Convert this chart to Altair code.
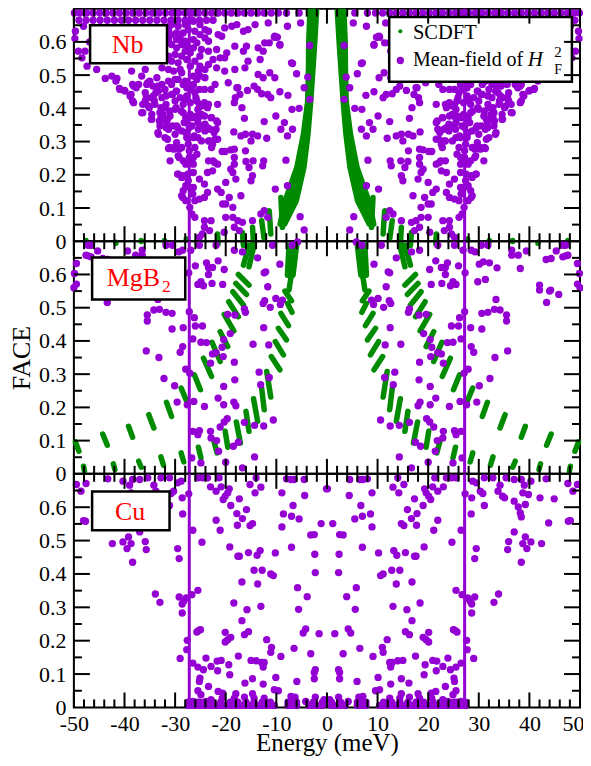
import altair as alt
import pandas as pd

GREEN = "#008b00"
PURPLE = "#9400d3"
SERIF = "Liberation Serif"
GAP_EDGE = 27.2

# The reference is mirror-symmetric about 0 meV: values below were read for the E > 0 half.
NB_ROW = [5.5,8.0,9.6,11.0,12.4,13.7,15.0,16.3,17.6,18.9,20.2,21.5,22.8,24.1,25.4,26.7,28.0,29.3,30.6,31.9,33.2,34.5,35.8,37.1,38.4,39.7,41.0,42.3,43.6,44.9,46.2,47.5,48.8,49.9]
NB_ROW2 = [22.5,23.8,25.2,26.6,28.0,29.4,30.8,32.2,33.6,35.0,36.4,37.8,39.2,40.6,42.0,43.4,44.8,46.2,47.6,49.0]
NB_POINTS = [
(5.2,.657),(7.8,.647),(9.8,.614),(10.4,.614),(9.3,.590),(11.4,.597),(3.4,.589),(6.8,.535),(6.0,.504),(3.8,.494),
(4.5,.462),(3.4,.427),(5.5,.400),(6.9,.397),(7.7,.439),(9.3,.450),(11.1,.432),(11.7,.442),(12.9,.444),(13.7,.457),
(14.4,.467),(15.7,.454),(17.2,.442),(17.6,.462),(18.1,.432),(18.3,.417),(16.8,.402),(21.6,.412),(10.1,.377),(12.4,.360),
(8.4,.357),(9.1,.337),(6.8,.337),(7.8,.317),(11.9,.310),(13.7,.317),(14.7,.322),(15.0,.302),(16.1,.322),(17.0,.317),
(18.4,.329),(16.3,.370),(16.1,.272),(18.3,.277),(19.0,.275),(20.1,.270),(20.7,.270),(8.1,.244),(12.5,.242),(12.7,.227),
(14.6,.242),(16.0,.240),(15.4,.222),(14.7,.197),(15.0,.182),(18.3,.252),(18.3,.232),(19.0,.217),(18.6,.207),(21.6,.232),
(22.2,.237),(22.6,.212),(23.6,.207),(20.0,.177),(18.0,.187),(24.2,.172),(25.2,.187),(7.8,.167),(10.2,.157),(21.6,.157),
(20.9,.147),(19.3,.132),(17.0,.137),(23.6,.147),(24.2,.132),(25.2,.127),(20.6,.112),(18.6,.102),(20.0,.112),(12.4,.092),
(13.05,.082),(11.7,.072),(5.3,.074),(14.7,.062),(16.7,.057),(17.6,.062),(18.6,.072),(20.0,.072),(22.9,.062),(24.2,.062),
(24.2,.042),(18.3,.042),(17.3,.032),(20.3,.027),(23.2,.032),(24.6,.022),(25.2,.012),(4.5,.034),
(22.9,.457),(24.2,.457),(25.2,.457),(26.5,.467),(28.2,.472),(29.8,.452),(30.5,.442),(31.8,.437),(33.4,.467),(34.4,.467),
(33.8,.447),(35.4,.477),(37.7,.462),(38.4,.472),(40.0,.454),(41.0,.460),(41.7,.482),(35.7,.432),(38.7,.442),(38.4,.422),
(34.7,.432),(34.1,.422),(31.8,.412),(32.8,.402),(32.4,.382),(31.1,.392),(29.8,.402),(27.9,.427),(25.9,.432),(25.2,.412),
(24.2,.417),(23.6,.402),(25.5,.397),(24.9,.382),(24.2,.377),(22.9,.372),(21.6,.357),(21.9,.337),(23.6,.342),(22.3,.327),
(21.6,.307),(23.2,.302),(22.6,.292),(25.5,.312),(26.2,.317),(27.9,.327),(27.2,.342),(28.2,.357),(29.5,.342),(30.5,.347),
(31.5,.367),(32.8,.372),(33.4,.327),(31.5,.307),(30.2,.282),(31.1,.282),(29.2,.277),(27.2,.272),(27.2,.252),(29.2,.252),
(27.9,.232),(29.5,.202),(27.5,.202),(28.5,.197),(27.9,.167),(26.5,.142),(28.5,.132),(27.9,.122),(35.1,.402),(36.4,.412),
(36.4,.387),(34.7,.367),(33.1,.362),(31.8,.342),(28.8,.392),(27.9,.372),(26.5,.372),(25.5,.357),(24.6,.347),
(49.7,.632),(48.1,.647),(49.1,.572),(47.8,.572),(48.4,.552),(47.4,.527),(45.5,.517),(43.8,.490),(42.5,.497),(41.5,.490),
(40.9,.457),(39.9,.452),(38.6,.512),(36.6,.497),(38.2,.467),(38.9,.437),(38.2,.417),(36.6,.387),(35.9,.447),(35.0,.482),
(33.6,.492),(33.3,.452),(34.3,.437),(32.6,.432),(34.6,.367),(33.0,.387),(32.0,.402),(31.0,.377),(33.3,.322),(33.0,.347),
(31.3,.337),(29.7,.347),(29.0,.517),(29.4,.487),(29.7,.452),(30.7,.442),(31.3,.517),(32.6,.522),(35.9,.517),(30.0,.322),
(28.7,.332),(29.7,.297),(31.3,.279),(30.3,.277),(28.7,.282),(31.0,.242),(29.4,.257),(28.4,.242),(29.4,.202),(28.7,.192),
(28.4,.152),(28.7,.137),(26.4,.232),(26.4,.207),
(30.7,.622),(29.7,.627),(29.0,.612),(28.0,.602),(27.4,.637),(26.1,.632),(25.1,.622),(24.1,.612),(23.4,.602),(30.7,.592),
(29.7,.582),(28.0,.572),(27.0,.567),(28.7,.557),(29.4,.537),(30.7,.542),(26.1,.542),(25.1,.557),(23.4,.572),(21.8,.577),
(21.5,.622),(20.2,.642),(18.8,.647),(17.8,.652),(20.8,.617),(16.5,.632),(15.6,.637),(14.2,.652),(11.6,.657),(10.3,.617),
(9.3,.592),(12.3,.597),(13.6,.582),(12.6,.572),(15.9,.587),(16.5,.572),(18.2,.587),(19.8,.567),(24.8,.577),(22.5,.547),
(21.1,.552),(20.2,.552),(23.4,.532),(25.1,.527),(21.8,.522),(20.2,.512),(18.2,.517),(16.2,.522),(15.6,.542),(13.2,.547),
(7.0,.537),(13.6,.502),(12.6,.492),(11.3,.507),(10.3,.492),(19.5,.477),(17.8,.462),(22.1,.472),(24.1,.492),(25.7,.487),
(26.4,.472),(27.7,.462),(46.0,.640),(44.0,.640),(31.0,.650),(33.0,.640),(49.8,.610),(46.9,.600),
(30.7,.652),(29.4,.647),(28.0,.652),(26.4,.662),(25.1,.652),(24.1,.637),(23.4,.632),(28.4,.627),(26.4,.607),(29.7,.607),
(31.3,.607),(31.3,.637),(26.4,.582),(25.7,.597),(27.7,.587),(28.7,.592),(30.0,.562),(31.3,.557),(27.7,.547),(25.4,.512),
(24.1,.517),(27.0,.527),(28.7,.507),(30.3,.512),(30.0,.487),(28.0,.482),(26.4,.497),(25.1,.497),
(37.2,.472),(35.6,.472),(32.6,.472),(31.3,.482),(32.0,.457),(30.7,.472),(28.4,.472),(27.0,.457),(26.1,.447),(29.0,.432),
(27.7,.437),(30.0,.422),(28.4,.412),(27.0,.417),(25.7,.422),(24.8,.407),(30.0,.397),(28.4,.387),(27.0,.382),(25.7,.377),
(24.8,.382),(23.4,.412),(35.3,.407),(34.0,.412),(35.9,.422),(34.6,.382),(32.6,.367),(31.7,.357),(28.0,.357),(26.7,.347),
(25.4,.337),(24.1,.332),(27.7,.312),(26.4,.312),(24.8,.302),(27.4,.292),(26.1,.282),(32.0,.312),(23.4,.302),(22.8,.282),
(27.0,.242),(26.4,.252),(25.7,.262),(23.4,.242),(22.5,.242),(25.4,.372),(24.1,.352),(22.8,.372),(21.8,.362),(23.1,.337),
(22.1,.307),(27.4,.182),(26.4,.162),(26.1,.122),(27.1,.102),(26.7,.082),(26.1,.072),(27.1,.162),
]
NB_STROKES = [
[(2.05,.692),(2.4,.602),(2.75,.522),(3.2,.422),(3.75,.322),(4.55,.222),(6.05,.122),(8.35,.052)],
[(2.7,.692),(3.0,.602),(3.2,.522),(3.5,.422),(4.2,.322),(5.25,.222),(7.15,.122),(8.8,.052)],
[(3.35,.692),(3.6,.602),(3.65,.522),(3.8,.422),(4.65,.322),(5.95,.222),(8.25,.122),(9.25,.052)],
[(4.9,.222),(6.6,.122),(8.5,.052)],[(5.6,.222),(7.7,.122),(9.0,.052)],
[(9.1,.132),(8.8,.042)],[(11.4,.092),(11.1,.022)],[(12.9,.062),(12.4,.007)],[(14.7,.042),(14.5,-.013)],
[(16.7,.027),(16.5,-.013)],[(21.6,.022),(21.5,-.008)],[(27.8,.007),(27.8,.004)],[(32.1,.002),(32.1,-.001)],
[(36.7,.002),(36.7,-.001)],[(41.7,-.003),(41.7,-.006)],[(47.6,.002),(47.6,-.001)],
]
MGB2_POINTS = [
(5.8,.698),(6.9,.688),(10.75,.688),(13.7,.650),(16.7,.668),(18.3,.673),(21.9,.688),(25.2,.688),(26.9,.673),(28.5,.673),
(29.3,.668),(30.5,.688),(31.8,.688),(36.5,.673),(36.5,.658),(37.8,.658),(39.4,.671),(45.3,.671),(46.6,.688),(47.2,.688),
(46.6,.653),(47.2,.656),(47.6,.658),(9.3,.631),(12.1,.608),(12.4,.605),(21.5,.641),(23.8,.635),(22.6,.621),(23.4,.621),
(20.3,.615),(23.4,.600),(26.0,.626),(27.3,.605),(30.1,.631),(30.9,.638),(32.1,.635),(33.6,.620),(38.2,.618),(43.3,.645),
(44.3,.648),(49.5,.633),(49.9,.603),(49.5,.571),(50.0,.560),(11.7,.563),(20.6,.570),(22.7,.573),(24.4,.566),(24.9,.578),
(25.5,.570),(29.8,.578),(31.3,.585),(42.0,.568),(42.0,.553),(44.2,.553),(44.0,.550),(45.8,.540),(33.4,.525),(43.4,.516),
(8.8,.523),(10.1,.528),(9.2,.510),(11.2,.501),(12.3,.521),(12.6,.513),(16.1,.486),(16.3,.496),(18.2,.478),(19.6,.480),
(27.2,.488),(26.2,.470),(30.6,.483),(31.8,.486),(33.1,.495),(34.2,.493),(35.5,.478),(35.5,.460),(12.5,.440),(24.6,.445),
(26.0,.445),(28.4,.440),(30.6,.436),(19.1,.422),(20.4,.404),(11.5,.388),(14.6,.390),(23.8,.395),(24.9,.396),(26.5,.406),
(20.7,.381),(21.9,.365),(22.6,.361),(20.5,.353),(28.5,.383),(29.0,.366),(35.7,.370),(33.2,.350),(18.3,.336),(23.0,.333),
(13.4,.306),(11.4,.290),(18.2,.283),(27.1,.303),(27.9,.315),(32.2,.287),(13.1,.268),(20.4,.263),(30.1,.265),(21.5,.228),
(18.4,.216),(18.0,.205),(20.4,.208),(24.2,.203),(26.3,.218),(27.6,.208),(29.6,.216),(10.6,.162),(12.5,.144),(14.3,.146),
(16.3,.155),(19.7,.166),(20.3,.156),(21.1,.141),(23.0,.128),(22.9,.108),(21.8,.100),(25.2,.130),(25.5,.118),(26.5,.128),
(17.5,.095),(18.5,.083),(21.4,.068),(14.3,.051),(26.7,.048),(24.9,.033),(20.0,.035),(16.7,.018),
]
MGB2_STROKES = [
[(6.0,.688),(6.7,.598)],[(6.7,.688),(7.1,.593)],[(7.5,.688),(7.8,.598)],[(7.1,.593),(7.5,.553)],
[(8.3,.550),(7.0,.521)],[(7.8,.513),(6.9,.486)],[(9.1,.483),(7.6,.446)],[(9.6,.438),(8.0,.403)],
[(10.2,.398),(8.6,.358)],[(11.0,.353),(9.3,.313)],[(11.9,.308),(11.1,.231)],[(12.9,.258),(12.4,.193)],
[(14.5,.226),(13.7,.158)],[(16.0,.188),(15.4,.128)],[(17.9,.156),(17.1,.093)],[(20.1,.128),(19.6,.080)],
[(22.3,.096),(21.7,.063)],[(25.4,.080),(24.9,.048)],[(28.8,.063),(28.3,.036)],[(32.8,.051),(32.3,.026)],
[(37.2,.038),(36.7,.020)],[(42.2,.030),(41.9,.013)],[(48.1,.023),(47.9,.008)],
[(14.4,.688),(15.4,.623)],[(15.4,.688),(16.5,.628)],[(17.5,.600),(15.4,.568)],[(18.0,.573),(15.9,.540)],
[(18.6,.548),(16.5,.508)],[(19.4,.518),(17.5,.473)],[(20.3,.480),(18.4,.430)],[(21.1,.428),(19.6,.383)],
[(22.7,.396),(21.1,.338)],[(24.4,.348),(22.8,.293)],[(26.2,.298),(25.0,.253)],[(28.8,.258),(27.7,.218)],
[(31.7,.215),(30.7,.173)],[(35.2,.178),(34.2,.138)],[(39.2,.143),(38.4,.110)],[(44.3,.120),(43.4,.086)],
[(49.7,.096),(49.0,.068)],
]
CU_ROW = [0.9,1.8,2.7,3.6,6.0,6.9,7.7,10.4,11.2,12.0,12.8,13.6,14.4,15.2,16.0,16.8,17.6,18.4,19.1,20.2,21.0,21.8,22.6,23.4,24.2,25.0,25.8,26.6,27.4]
CU_POINTS = [
(0.1,.655),(4.5,.683),(6.5,.683),(7.1,.683),(8.0,.685),(13.05,.660),(14.2,.643),(14.0,.688),(15.2,.668),(19.3,.655),
(19.6,.643),(20.1,.633),(20.5,.623),(20.9,.661),(21.9,.648),(23.0,.661),(21.3,.688),(23.6,.688),(24.6,.688),(25.5,.688),
(27.3,.640),(28.6,.628),(28.8,.678),(29.5,.673),(30.3,.648),(30.8,.641),(31.1,.605),(31.1,.688),(32.8,.688),(33.8,.648),
(34.2,.666),(34.7,.633),(35.1,.628),(35.4,.688),(37.0,.683),(38.4,.683),(39.0,.666),(40.3,.678),(38.7,.643),(39.8,.638),
(42.1,.628),(43.3,.685),(44.9,.625),(47.6,.671),(49.5,.668),(48.6,.648),(4.4,.635),(8.9,.643),(6.7,.605),(5.5,.565),
(7.0,.573),(8.6,.580),(8.9,.541),(1.15,.551),(2.5,.518),(3.2,.517),(17.3,.625),(19.0,.605),(15.9,.593),(17.8,.581),
(16.7,.566),(14.7,.551),(15.2,.545),(17.7,.546),(21.9,.561),(21.1,.531),(26.5,.531),(28.5,.580),(37.0,.618),(37.8,.601),
(39.2,.608),(38.2,.583),(38.4,.571),(43.8,.553),(47.7,.558),(48.1,.560),(37.0,.526),(35.9,.497),(35.7,.473),(39.2,.511),
(38.7,.491),(39.5,.476),(40.3,.496),(42.4,.491),(38.4,.435),(24.7,.495),(29.5,.476),(29.2,.446),(7.0,.480),(10.2,.463),
(13.2,.470),(13.8,.456),(15.5,.464),(17.3,.453),(17.6,.453),(19.2,.481),(2.4,.459),(2.3,.404),(10.6,.395),(11.1,.400),
(12.8,.411),(14.4,.411),(13.7,.370),(16.8,.376),(5.8,.359),(3.9,.332),(5.6,.294),(13.05,.303),(15.8,.293),(16.8,.260),
(18.4,.313),(25.5,.351),(26.7,.338),(27.8,.328),(28.3,.318),(28.6,.310),(29.2,.331),(28.6,.283),(33.0,.315),(33.9,.340),
(4.2,.235),(4.7,.223),(1.55,.221),(15.5,.227),(16.3,.218),(19.0,.210),(19.6,.203),(20.1,.196),(20.1,.225),(25.0,.233),
(25.3,.231),(25.7,.226),(11.9,.203),(27.6,.201),(27.7,.173),(29.0,.147),(6.5,.177),(3.2,.161),(10.95,.180),(11.1,.165),
(9.1,.153),(17.5,.154),(12.4,.135),(12.6,.121),(12.9,.135),(14.0,.140),(15.0,.141),(20.9,.141),(21.7,.139),(23.9,.148),
(22.9,.123),(21.6,.110),(19.4,.128),(24.4,.113),(25.5,.121),(26.5,.133),(19.2,.098),(2.3,.113),(2.5,.105),(2.5,.086),
(5.95,.078),(10.1,.090),(14.7,.086),(16.2,.073),(12.6,.070),(23.4,.063),(25.1,.088),(25.2,.078),(9.6,.050),(10.4,.053),
(12.4,.028),(14.4,.028),(14.7,.041),(16.3,.031),(18.0,.041),(18.3,.028),(20.6,.043),(21.5,.048),(20.7,.028),(24.9,.038),
(25.5,.050),(22.9,.023),(23.9,.018),(25.2,.016),(26.5,.018),(2.3,.031),(6.3,.031),(7.1,.033),(0.56,.023),(4.2,.018),
(6.5,.018),
]
X_MAJOR = [-50,-40,-30,-20,-10,0,10,20,30,40,50]
X_MINOR = [v for v in range(-48, 50, 2) if v % 10 != 0]
Y_MAJOR = [0.1,0.2,0.3,0.4,0.5,0.6]
Y_MINOR = [0.05,0.15,0.25,0.35,0.45,0.55,0.65]
Y_LABELS = [0,0.1,0.2,0.3,0.4,0.5,0.6]

W = 507
xs = alt.Scale(domain=[-50, 50], nice=False, zero=False)
ys = alt.Scale(domain=[0, 0.7], nice=False, zero=False)


def sym(points):
    xy = list(points)
    return pd.DataFrame({"x": [p[0] for p in xy] + [-p[0] for p in xy], "y": [p[1] for p in xy] * 2})


def stroke_df(strokes):
    rows = []
    for k, s in enumerate(strokes):
        for sign, tag in ((1, "r"), (-1, "l")):
            for i, (x, y) in enumerate(s):
                rows.append({"x": sign * x, "y": y, "s": f"{tag}{k}", "i": i})
    return pd.DataFrame(rows)


def panel(points, strokes, boxes, texts, H, dots=(), xaxis=False, ytitle=None):
    xax = alt.Axis(values=X_MAJOR, labelExpr="toString(datum.value)", tickSize=0, domain=False, grid=False,
                   labelFont=SERIF, labelFontSize=22, labelColor="black", labelPadding=6, labelAngle=0,
                   labelFlush=False, labelOverlap=False,
                   labelOffset={"condition": {"test": "datum.value == 50", "value": -7}, "value": 0},
                   title="Energy (meV)", titleFont=SERIF, titleFontSize=25, titleFontWeight="normal",
                   titleColor="black", titleY=43, titleBaseline="alphabetic") if xaxis else None
    yax = alt.Axis(values=Y_LABELS, labelExpr="toString(datum.value)", tickSize=0, domain=False, grid=False,
                   labelFont=SERIF, labelFontSize=22, labelColor="black", labelPadding=8,
                   labelFlush=False, labelOverlap=False,
                   title=ytitle, titleFont=SERIF, titleFontSize=26, titleFontWeight="normal",
                   titleColor="black", titleX=-44, titleBaseline="alphabetic")
    X = alt.X("x:Q", scale=xs, axis=xax)
    Y = alt.Y("y:Q", scale=ys, axis=yax)
    layers = []
    if strokes:
        layers.append(alt.Chart(stroke_df(strokes)).mark_line(color=GREEN, strokeWidth=5.5, strokeCap="round", strokeJoin="round")
                      .encode(x=X, y=Y, detail="s:N", order="i:Q"))
    layers += [
        alt.Chart(sym(points)).mark_circle(color=PURPLE, opacity=1, size=54).encode(x=X, y=Y),
        alt.Chart(pd.DataFrame({"x": [-GAP_EDGE, GAP_EDGE], "y": [0, 0], "y2": [0.7, 0.7]}))
        .mark_rule(color=PURPLE, strokeWidth=3).encode(x=X, y=Y, y2="y2:Q"),
    ]
    for b in boxes:
        layers.append(alt.Chart(pd.DataFrame({"x": [b[0]], "x2": [b[1]], "y": [b[2]], "y2": [b[3]]}))
                      .mark_rect(fill="white", stroke="black", strokeWidth=2.5).encode(x=X, x2="x2:Q", y=Y, y2="y2:Q"))
    for d in dots:
        layers.append(alt.Chart(pd.DataFrame({"x": [d[0]], "y": [d[1]]}))
                      .mark_circle(color=d[2], opacity=1, size=d[3]).encode(x=X, y=Y))
    for t in texts:
        layers.append(alt.Chart(pd.DataFrame({"x": [t[0]], "y": [t[1]], "t": [t[2]]}))
                      .mark_text(font=SERIF, fontSize=t[3], color=t[4], align="left", baseline="alphabetic",
                                 fontStyle=t[5] if len(t) > 5 else "normal")
                      .encode(x=X, y=Y, text="t:N"))
    xmaj = pd.DataFrame({"x": X_MAJOR})
    xmin = pd.DataFrame({"x": X_MINOR})
    ymaj = pd.DataFrame({"y": Y_MAJOR})
    ymin = pd.DataFrame({"y": Y_MINOR})
    tick = dict(color="black", strokeWidth=2)
    for df, ln in ((xmaj, 15), (xmin, 8)):
        layers.append(alt.Chart(df).mark_rule(**tick).encode(x=X, y=alt.value(H), y2=alt.value(H - ln)))
        layers.append(alt.Chart(df).mark_rule(**tick).encode(x=X, y=alt.value(0), y2=alt.value(ln)))
    for df, ln in ((ymaj, 16), (ymin, 8)):
        layers.append(alt.Chart(df).mark_rule(**tick).encode(y=Y, x=alt.value(0), x2=alt.value(ln)))
        layers.append(alt.Chart(df).mark_rule(**tick).encode(y=Y, x=alt.value(W), x2=alt.value(W - ln)))
    return alt.layer(*layers).properties(width=W, height=H)


nb = panel(
    NB_POINTS + [(v, .687) for v in NB_ROW] + [(v, .665) for v in NB_ROW2], NB_STROKES,
    boxes=[(-46.8, -31.6, .650, .536), (12.3, 48.4, .675, .480)],
    texts=[(-42.5, .567, "Nb", 26, "red"),
           (17.0, .610, "SCDFT", 20.5, "black"),
           (17.0, .527, "Mean-field of", 20, "black"),
           (39.7, .527, "H", 21, "black", "italic"),
           (44.9, .554, "2", 15, "black"),
           (44.9, .504, "F", 14, "black")],
    dots=[(14.5, .632, GREEN, 17), (14.5, .544, PURPLE, 54)],
    H=233,
)
mg = panel(
    MGB2_POINTS, MGB2_STROKES,
    boxes=[(-46.4, -28.0, .651, .525)],
    texts=[(-43.5, .565, "MgB", 26, "red"), (-32.6, .547, "2", 17.5, "red")],
    ytitle="FACE", H=233,
)
cu = panel(
    CU_POINTS + [(v, .006) for v in CU_ROW] + [(v, .016) for v in CU_ROW[::2]], [],
    boxes=[(-46.4, -31.1, .647, .531)],
    texts=[(-41.9, .561, "Cu", 26, "red")],
    xaxis=True, H=234,
)

chart = (
    alt.vconcat(nb, mg, cu, spacing=0, bounds="flush")
    .properties(padding={"left": 0, "top": -3, "right": -2, "bottom": -1})
    .configure_view(stroke="black", strokeWidth=2)
    .configure_concat(spacing=0)
)
chart.save("out.html", embed_options={"renderer": "svg", "actions": False})
